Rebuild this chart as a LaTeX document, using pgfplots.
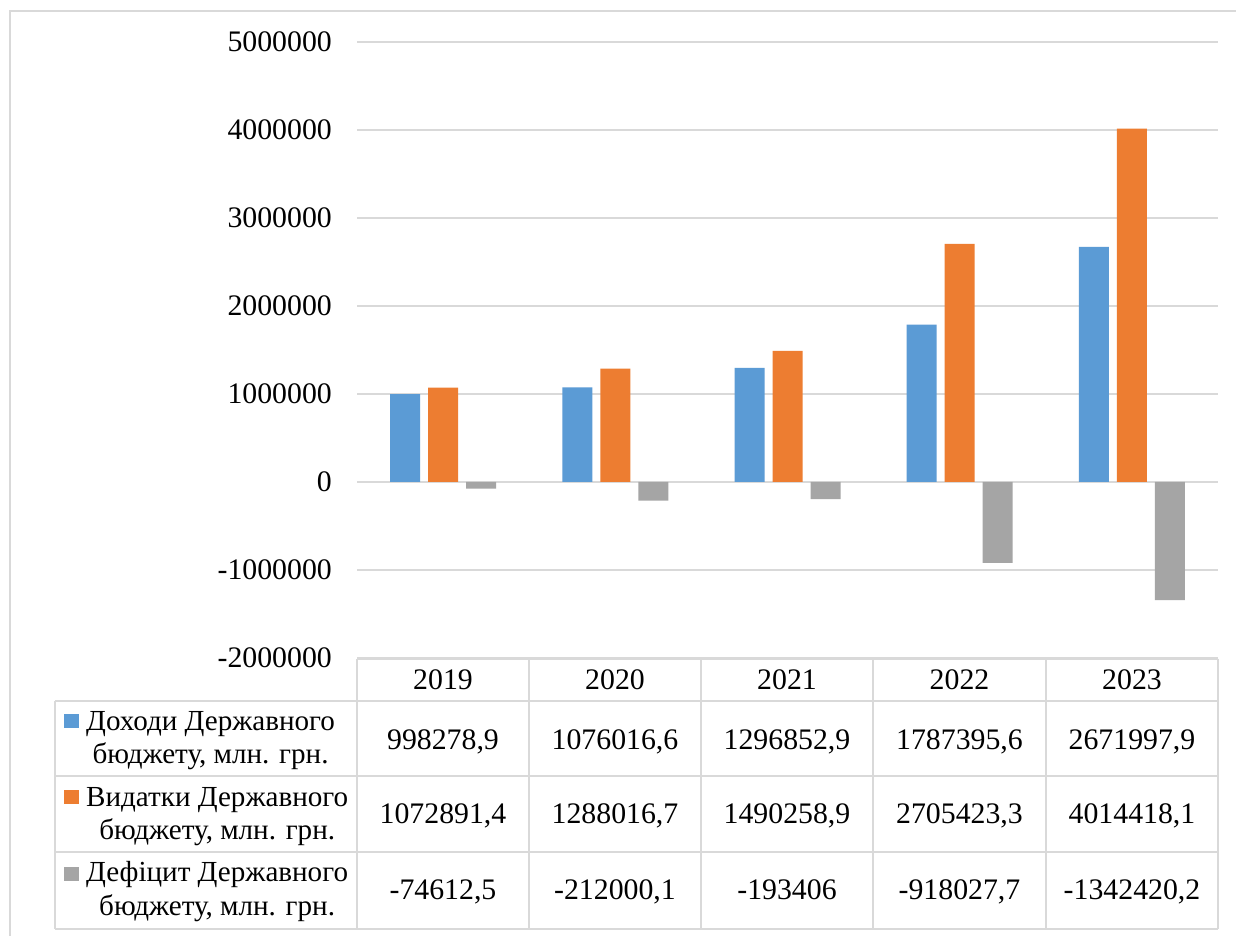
\documentclass[border=0pt]{standalone}
\usepackage{fontspec}
\setmainfont{Liberation Serif}
\usepackage{pgfplots}
\usepackage{pgfplotstable}
\pgfplotsset{compat=1.18}
\definecolor{cblue}{HTML}{5B9BD5}
\definecolor{corange}{HTML}{ED7D31}
\definecolor{cgray}{HTML}{A5A5A5}
\definecolor{lgray}{HTML}{D9D9D9}
\pgfplotstableread{
x D V F
0 998278.9 1072891.4 -74612.5
1 1076016.6 1288016.7 -212000.1
2 1296852.9 1490258.9 -193406
3 1787395.6 2705423.3 -918027.7
4 2671997.9 4014418.1 -1342420.2
}\budget
\newcommand\fs{\fontsize{29.8}{33}\selectfont}
\newcommand\fl{\fontsize{29.1}{33}\selectfont}
\begin{document}
\begin{tikzpicture}[x=1pt,y=1pt]
\useasboundingbox (0,0) rectangle (1236,936);
\fill[white] (0,0) rectangle (1236,936);
\draw[lgray, line width=1.5pt] (10,-10) -- (10,925) -- (1250,925);
\begin{axis}[at={(357pt,278pt)}, anchor=south west, scale only axis,
  width=861pt, height=616pt,
  ymin=-2000000, ymax=5000000,
  ytick={-2000000,-1000000,0,1000000,2000000,3000000,4000000,5000000},
  yticklabels={-2000000,-1000000,0,1000000,2000000,3000000,4000000,5000000},
  scaled y ticks=false,
  xmin=-0.5, xmax=4.5, xtick=\empty,
  axis line style={draw=none}, major tick length=0pt,
  ymajorgrids, grid style={lgray, line width=1.5pt},
  ybar=8pt, bar width=30pt,
  yticklabel style={font=\fs, anchor=east, inner sep=0pt, xshift=-25pt},
]
\addplot[fill=cblue, draw=none] table[x=x,y=D]{\budget};
\addplot[fill=corange, draw=none] table[x=x,y=V]{\budget};
\addplot[fill=cgray, draw=none] table[x=x,y=F]{\budget};
\end{axis}
% table grid
\begin{scope}[lgray, line width=1.5pt]
\draw (357,277) -- (1218,277);
\foreach \yy in {235,160,84,7} {\draw (55,\yy) -- (1218,\yy);}
\foreach \xx in {357,529,701,873,1046,1218} {\draw (\xx,277) -- (\xx,7);}
\draw (55,235) -- (55,7);
\end{scope}
\begin{scope}[every node/.style={inner sep=0pt, font=\fs}]
% header
\node[anchor=base] at (443,246) {2019};
\node[anchor=base] at (615,246) {2020};
\node[anchor=base] at (787,246) {2021};
\node[anchor=base] at (959.5,246) {2022};
\node[anchor=base] at (1132,246) {2023};
% row 1
\node[anchor=base] at (443,186) {998278,9};
\node[anchor=base] at (615,186) {1076016,6};
\node[anchor=base] at (787,186) {1296852,9};
\node[anchor=base] at (959.5,186) {1787395,6};
\node[anchor=base] at (1132,186) {2671997,9};
% row 2
\node[anchor=base] at (443,112) {1072891,4};
\node[anchor=base] at (615,112) {1288016,7};
\node[anchor=base] at (787,112) {1490258,9};
\node[anchor=base] at (959.5,112) {2705423,3};
\node[anchor=base] at (1132,112) {4014418,1};
% row 3
\node[anchor=base] at (443,36) {-74612,5};
\node[anchor=base] at (615,36) {-212000,1};
\node[anchor=base] at (787,36) {-193406};
\node[anchor=base] at (959.5,36) {-918027,7};
\node[anchor=base] at (1132,36) {-1342420,2};
\end{scope}
\begin{scope}[every node/.style={inner sep=0pt, font=\fl}]
% legend column
\fill[cblue] (64,208) rectangle (79,222);
\fill[corange] (64,132) rectangle (79,146);
\fill[cgray] (64,55) rectangle (79,69);
\node (a1) [anchor=base west] at (86,205) {Доходи Державного};
\node[anchor=base] at ([yshift=-33pt]a1.base) {бюджету, млн. грн.};
\node (a2) [anchor=base west] at (86,129) {Видатки Державного};
\node[anchor=base] at ([yshift=-33pt]a2.base) {бюджету, млн. грн.};
\node (a3) [anchor=base west] at (86,54) {Дефіцит Державного};
\node[anchor=base] at ([yshift=-34pt]a3.base) {бюджету, млн. грн.};
\end{scope}
\end{tikzpicture}
\end{document}
